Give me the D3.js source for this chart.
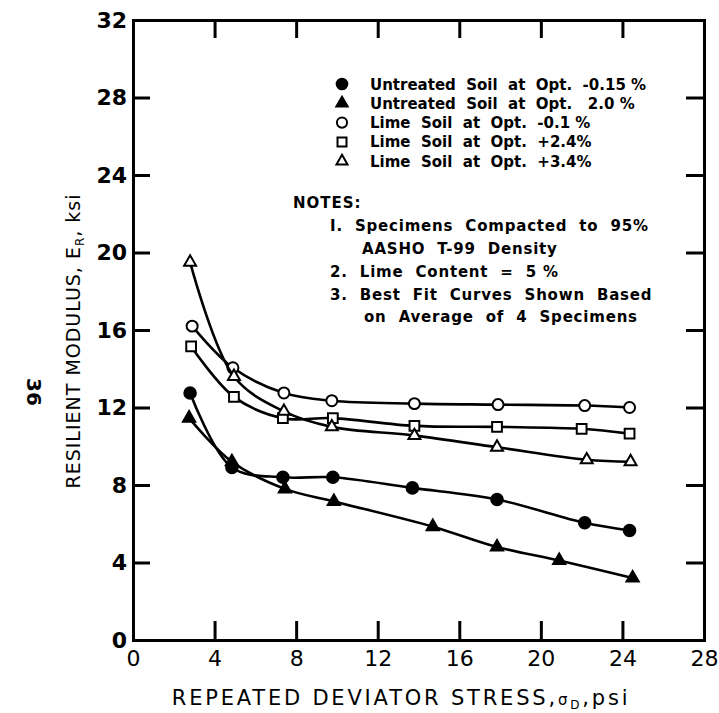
<!DOCTYPE html>
<html>
<head>
<meta charset="utf-8">
<script src="https://cdn.jsdelivr.net/npm/d3@7"></script>
<style>
  body { margin: 0; background: #fff; }
  text { font-family: "DejaVu Sans", sans-serif; fill: #000; }
</style>
</head>
<body>
<div id="chart-area"></div>
<script>
// values
const xTicks = [0, 4, 8, 12, 16, 20, 24, 28];
const yTicks = [0, 4, 8, 12, 16, 20, 24, 28, 32];

const untreatedLowX = [2.8, 4.85, 7.35, 9.8, 13.7, 17.85, 22.15, 24.35];
const untreatedLowY = [12.75, 8.9, 8.4, 8.4, 7.85, 7.25, 6.05, 5.65];

const untreatedHighX = [2.75, 4.85, 7.45, 9.85, 14.7, 17.85, 20.9, 24.5];
const untreatedHighY = [11.45, 9.2, 7.8, 7.15, 5.85, 4.8, 4.1, 3.2];

const limeLowX = [2.9, 4.9, 7.4, 9.75, 13.8, 17.9, 22.15, 24.35];
const limeLowY = [16.2, 14.05, 12.75, 12.35, 12.2, 12.15, 12.1, 12.0];

const limeMidX = [2.85, 4.95, 7.35, 9.8, 13.8, 17.85, 22.0, 24.35];
const limeMidY = [15.15, 12.55, 11.45, 11.45, 11.05, 11.0, 10.9, 10.65];

const limeHighX = [2.8, 4.95, 7.4, 9.75, 13.8, 17.85, 22.25, 24.4];
const limeHighY = [19.5, 13.6, 11.8, 11.0, 10.55, 9.95, 9.3, 9.2];

const legendLabels = [
  "Untreated  Soil  at  Opt.  -0.15 %",
  "Untreated  Soil  at  Opt.   2.0 %",
  "Lime  Soil  at  Opt.  -0.1 %",
  "Lime  Soil  at  Opt.  +2.4%",
  "Lime  Soil  at  Opt.  +3.4%"
];

const noteLines = [
  "I.  Specimens  Compacted  to  95%",
  "AASHO  T-99  Density",
  "2.  Lime  Content  =  5 %",
  "3.  Best  Fit  Curves  Shown  Based",
  "on  Average  of  4  Specimens"
];

const series = [
  { xs: untreatedLowX, ys: untreatedLowY, shape: d3.symbolCircle, size: 105, filled: true },
  { xs: untreatedHighX, ys: untreatedHighY, shape: d3.symbolTriangle, size: 65, filled: true },
  { xs: limeLowX, ys: limeLowY, shape: d3.symbolCircle, size: 95, filled: false },
  { xs: limeMidX, ys: limeMidY, shape: d3.symbolSquare, size: 95, filled: false },
  { xs: limeHighX, ys: limeHighY, shape: d3.symbolTriangle, size: 62, filled: false }
];

const margin = { top: 20, right: 15, bottom: 73, left: 133 };
const width = 719 - margin.left - margin.right;
const height = 713 - margin.top - margin.bottom;

const svg = d3.select("#chart-area")
  .append("svg")
  .attr("width", 719)
  .attr("height", 713);

const g = svg.append("g")
  .attr("transform", `translate(${margin.left}, ${margin.top})`);

const x = d3.scaleLinear().domain([0, 28]).range([0, width]);
const y = d3.scaleLinear().domain([0, 32]).range([height, 0]);

// axes: ticks point inward on all four sides
const bottom = g.append("g")
  .attr("transform", `translate(0, ${height})`)
  .call(d3.axisBottom(x).tickValues(xTicks).tickSize(-19).tickPadding(10));
bottom.selectAll("text").attr("font-size", "22px");

const left = g.append("g")
  .call(d3.axisLeft(y).tickValues(yTicks).tickSize(-17).tickPadding(6));
left.selectAll("text").attr("font-size", "22px").attr("font-weight", "bold");

g.append("g")
  .call(d3.axisTop(x).tickValues(xTicks).tickSize(-18).tickFormat(""));

g.append("g")
  .attr("transform", `translate(${width}, 0)`)
  .call(d3.axisRight(y).tickValues(yTicks).tickSize(-18).tickFormat(""));

g.selectAll(".domain").attr("stroke", "#000").attr("stroke-width", 3);
g.selectAll(".tick line").attr("stroke", "#000").attr("stroke-width", 3);
g.selectAll(".tick text").attr("font-family", "DejaVu Sans").attr("fill", "#000");

// best fit curves
const line = d3.line()
  .x(d => x(d[0]))
  .y(d => y(d[1]))
  .curve(d3.curveCatmullRom.alpha(0.5));

series.forEach(s => {
  const pts = s.xs.map((v, i) => [v, s.ys[i]]);

  g.append("path")
    .datum(pts)
    .attr("fill", "none")
    .attr("stroke", "#000")
    .attr("stroke-width", 2.6)
    .attr("d", line);

  g.selectAll(null)
    .data(pts)
    .enter()
    .append("path")
    .attr("transform", d => `translate(${x(d[0])}, ${y(d[1])})`)
    .attr("d", d3.symbol().type(s.shape).size(s.size))
    .attr("fill", s.filled ? "#000" : "#fff")
    .attr("stroke", "#000")
    .attr("stroke-width", 2);
});

// legend
const legend = svg.append("g");
legendLabels.forEach((label, i) => {
  const s = series[i];
  const cy = 84 + i * 19.3;
  legend.append("path")
    .attr("transform", `translate(342, ${cy})`)
    .attr("d", d3.symbol().type(s.shape).size(s.size * 0.85))
    .attr("fill", s.filled ? "#000" : "#fff")
    .attr("stroke", "#000")
    .attr("stroke-width", 2);
  legend.append("text")
    .attr("x", 370)
    .attr("y", cy + 5.5)
    .attr("font-size", "15px")
    .attr("font-weight", "bold")
    .style("white-space", "pre")
    .text(label);
});

svg.append("text")
  .attr("x", 293)
  .attr("y", 208)
  .attr("font-size", "15px")
  .attr("font-weight", "bold")
  .attr("letter-spacing", "1px")
  .text("NOTES:");

const noteX = [330, 362, 330, 330, 364];
const noteY = [225, 248, 271, 294, 316];
noteLines.forEach((t, i) => {
  svg.append("text")
    .attr("x", noteX[i])
    .attr("y", noteY[i] + 5.5)
    .attr("font-size", "15px")
    .attr("font-weight", "bold")
    .attr("letter-spacing", "0.8px")
    .style("white-space", "pre")
    .text(t);
});

// axis titles
const xTitle = svg.append("text")
  .attr("x", 401)
  .attr("y", 705)
  .attr("text-anchor", "middle")
  .attr("font-size", "21px")
  .attr("letter-spacing", "2.8px");
xTitle.append("tspan").text("REPEATED DEVIATOR STRESS,");
xTitle.append("tspan").attr("font-size", "15px").text("σ");
xTitle.append("tspan").attr("font-size", "12px").attr("dy", 4).text("D");
xTitle.append("tspan").attr("dy", -4).text(",psi");

const yTitle = svg.append("text")
  .attr("transform", "translate(80, 341) rotate(-90)")
  .attr("text-anchor", "middle")
  .attr("font-size", "19px")
  .attr("letter-spacing", "1px");
yTitle.append("tspan").text("RESILIENT MODULUS, E");
yTitle.append("tspan").attr("font-size", "12px").attr("dy", 4).text("R");
yTitle.append("tspan").attr("dy", -4).text(", ksi");

svg.append("text")
  .attr("transform", "translate(27, 392) rotate(90)")
  .attr("text-anchor", "middle")
  .attr("font-size", "20px")
  .attr("font-weight", "bold")
  .text("36");
</script>
</body>
</html>
